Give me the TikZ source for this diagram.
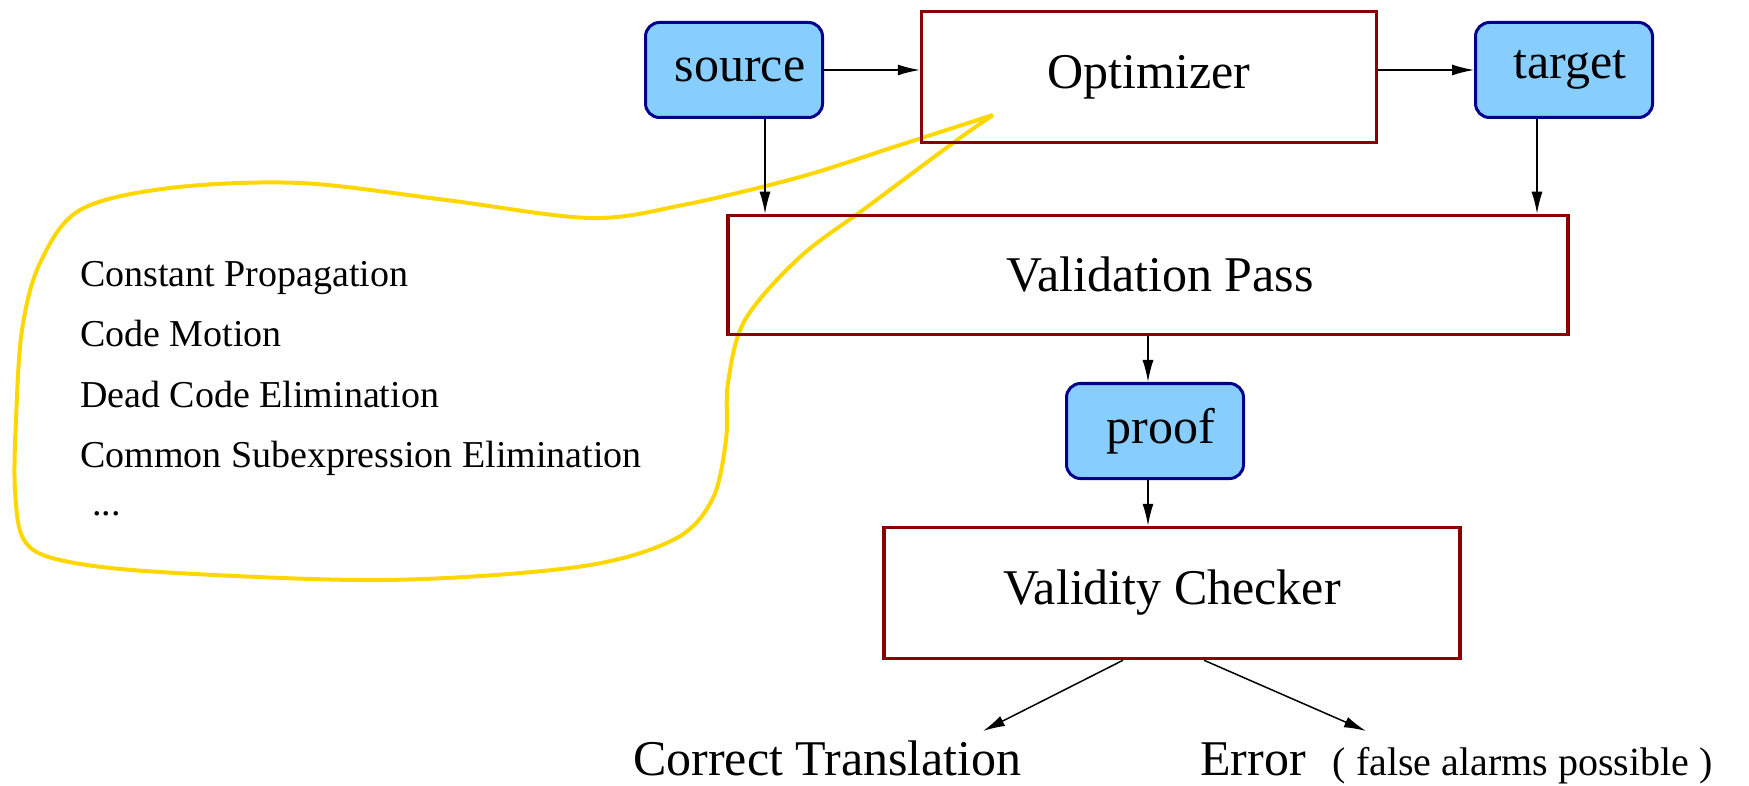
\documentclass[tikz,border=0pt]{standalone}
\usepackage{fontspec}
\setmainfont{Liberation Serif}
\usetikzlibrary{arrows.meta,calc}
\definecolor{boxblue}{HTML}{87CEFF}
\definecolor{navyline}{HTML}{00008B}
\definecolor{darkred}{HTML}{8B0000}
\definecolor{blobgold}{HTML}{FFD700}
\begin{document}
\begin{tikzpicture}[x=1pt,y=-1pt,
  databox/.style={draw=navyline, fill=boxblue, line width=3pt, rounded corners=14pt,
    inner sep=0pt, font=\fontsize{50}{60}\selectfont},
  procbox/.style={draw=darkred, line width=3.5pt, inner sep=0pt,
    font=\fontsize{50}{60}\selectfont},
  conn/.style={-{Latex[length=22pt,width=11pt]}, line width=1.5pt},
  bigtext/.style={inner sep=0pt, anchor=base west, font=\fontsize{50}{60}\selectfont},
  listtext/.style={inner sep=0pt, anchor=base west, font=\fontsize{38}{46}\selectfont},
  blob/.style={draw=blobgold, line width=4pt, line join=round}
]
\useasboundingbox (0,0) rectangle (1749,786);

% yellow blob
\draw[blob] plot[smooth, tension=0.55] coordinates {
  (993,115) (900,145) (800,177) (683,205) (590,218) (446,200) (300,183)
  (170,188) (80,210) (40,263) (22,330) (16,420) (15,490) (24,540) (60,560)
  (160,572) (385,580) (577,567) (673,540) (712,500) (726,440) (728,383)
  (745,320) (800,257) (867,207) (953,143) (993,115)};

% boxes
\node[databox, minimum width=177pt, minimum height=95pt] (source) at (734,70) {\hspace*{12pt}source};
\node[procbox, minimum width=455pt, minimum height=131pt] (opt) at (1149,77) {Optimizer};
\node[databox, minimum width=177pt, minimum height=95pt] (target) at (1564,70) {\hspace*{12pt}target};
\node[procbox, minimum width=840pt, minimum height=119pt] (vp) at (1148,275) {\hspace*{24pt}Validation Pass};
\node[databox, minimum width=177pt, minimum height=95pt] (proof) at (1155,431) {\hspace*{12pt}proof};
\node[procbox, minimum width=576pt, minimum height=131pt] (vc) at (1172,593) {Validity Checker};

% list
\node[listtext] (l1) at (80,287) {Constant Propagation};
\node[listtext] (l2) at (80,347) {Code Motion};
\node[listtext] (l3) at (80,407) {Dead Code Elimination};
\node[listtext] (l4) at (80,467) {Common Subexpression Elimination};
\node[listtext] (l5) at (92,515) {...};

% outcomes
\node[bigtext] (ct) at (633,775) {Correct Translation};
\node[bigtext] (err) at (1200,775) {Error\hspace{27pt}{\fontsize{40}{48}\selectfont( false alarms possible )}};
\coordinate (ctend) at (983,731);
\coordinate (errend) at (1366,731);

% connectors
\draw[conn] (source.east) -- (source.east -| opt.west);
\draw[conn] (opt.east |- target.west) -- (target.west);
\draw[conn] ([xshift=31pt]source.south) -- ([xshift=31pt]source.south |- vp.north);
\draw[conn] ([xshift=-27pt]target.south) -- ([xshift=-27pt]target.south |- vp.north);
\draw[conn] (vp.south) -- (vp.south |- proof.north);
\draw[conn] (vp.south |- proof.south) -- (vp.south |- vc.north);
\draw[conn] ([xshift=-49pt]vc.south) -- (ctend);
\draw[conn] ([xshift=32pt]vc.south) -- (errend);
\end{tikzpicture}
\end{document}
